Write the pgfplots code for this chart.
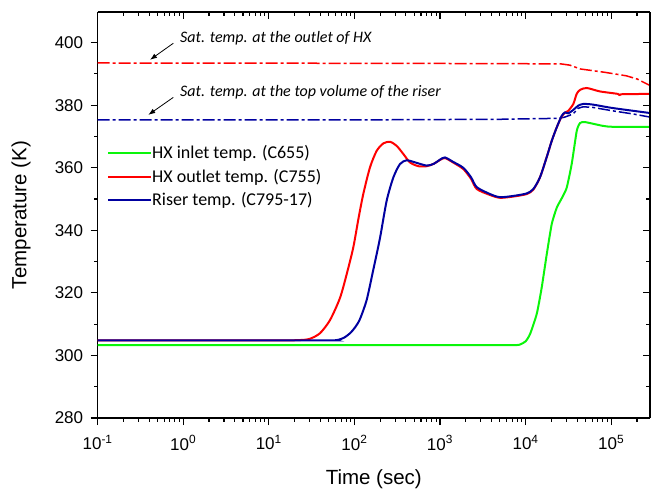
\documentclass[border=0pt]{standalone}
\usepackage{fontspec}
\setmainfont{Liberation Sans}
\newfontfamily\calfont{Carlito}
\usepackage{pgfplots}
\pgfplotsset{compat=1.18}
\usetikzlibrary{arrows.meta}
\definecolor{cgreen}{RGB}{10,245,10}
\definecolor{cred}{RGB}{255,0,0}
\definecolor{cblue}{RGB}{0,0,160}
\begin{document}
\begin{tikzpicture}
\useasboundingbox (-97.6pt,-72pt) rectangle (553.4pt,418pt);
\begin{axis}[xmode=log, log basis x=10, xmin=0.1, xmax=2.84e5, ymin=280, ymax=409.8,
  width=552.4pt, height=406pt, scale only axis,
  xtick={0.1,1,10,100,1000,10000,100000},
  ytick={280,300,320,340,360,380,400},
  major tick length=7pt,
  tick style={black, line width=1.1pt},
  axis line style={line width=1.2pt},
  yticklabel style={/pgf/number format/assume math mode=true, xshift=-4pt},
  xticklabel style={yshift=-7pt},
  ticklabel style={font=\fontsize{17}{20}\selectfont},
  axis x line*=bottom, axis y line*=left, tick align=outside,
  xticklabels={10\textsuperscript{-1},10\textsuperscript{0},10\textsuperscript{1},10\textsuperscript{2},10\textsuperscript{3},10\textsuperscript{4},10\textsuperscript{5}},
  xlabel={Time (sec)}, ylabel={Temperature (K)},
  label style={font=\fontsize{20.5}{24}\selectfont},
  xlabel style={at={(axis description cs:0.5,-0.165)}, anchor=base},
  ylabel style={at={(axis description cs:-0.1387,0.5)}, anchor=center},
  legend style={draw=none, fill=none, at={(axis description cs:0.017,0.673)}, anchor=north west,
    font=\calfont\fontsize{18}{21}\selectfont, inner sep=0pt, row sep=6.8pt,
    nodes={inner sep=0pt, text height=14pt, text depth=2.5pt}},
  legend image code/.code={\draw[#1] (0pt,0pt) -- (43pt,0pt);},
  legend cell align=left,
]
% saturation temperatures
\addplot[cred, line width=1.5pt, dash pattern=on 12pt off 3pt on 3pt off 3pt, forget plot] coordinates {
(0.1,393.5) (100,393.4) (5000,393.3) (26000,393.2) (33000,392.8) (43300,391.6) (85000,390.5) (150000,389.4) (200000,388.4) (240000,387.3) (284000,386.3)};
\addplot[cblue, line width=1.5pt, dash pattern=on 12pt off 3pt on 3pt off 3pt, forget plot] coordinates {
(0.1,375.3) (100,375.3) (5000,375.5) (23100,375.8) (28000,376.1) (33000,376.8) (37000,377.6) (41000,379.0) (47000,379.5) (61000,379.3) (104000,378.2) (180000,377.2) (284000,376.2)};
% HX inlet
\addplot[cgreen, line width=2pt, smooth, tension=0.35] coordinates {
(0.1,303.3) (1000,303.3) (7000,303.3) (8600,303.5) (10000,304.5) (11300,306.9) (13500,313.3) (15400,321.6) (17700,332.5) (20200,342) (23100,347.2) (26500,350.3) (30200,353.6) (34600,361.3) (39600,371.8) (43300,374.3) (49500,374.6) (79900,373.4) (104000,373.1) (284000,373.1)};
\addlegendentry{HX inlet temp. (C655)}
% HX outlet
\addplot[cred, line width=2pt, smooth, tension=0.45] coordinates {
(0.1,304.8) (10,304.8) (22,304.9) (30,305.3) (39.6,307.1) (51.9,311.3) (67.9,318.4) (81.3,326.0) (97,334.5) (112,344) (127,351.6) (152,360.1) (182,365.4) (218,367.8) (261,368.3) (312,367) (373,364.4) (447,361.7) (560,360.5) (700,360.5) (850,361.3) (1000,362.5) (1143,363.1) (1400,361.8) (1870,359.6) (2300,356.5) (2690,353.2) (3840,351.3) (5010,350.4) (7180,350.8) (10300,351.6) (12300,353.0) (14700,356.9) (17600,363.3) (20200,368.6) (23100,372.9) (26400,376.4) (28900,377.6) (31500,378.2) (36100,380.4) (39500,383.6) (43300,384.9) (51800,385.5) (74100,384.4) (120000,383.6) (126000,383.0) (132000,383.5) (260000,383.6) (284000,383.6)};
\addlegendentry{HX outlet temp. (C755)}
% Riser
\addplot[cblue, line width=2pt, smooth, tension=0.45] coordinates {
(0.1,304.8) (40,304.8) (55,304.8) (65,305.0) (76,305.7) (89,307.1) (102,309) (116,311.6) (139,317.7) (166,327.3) (199,337.5) (238,349.4) (285,356.9) (341,361.2) (408,362.4) (500,361.8) (700,360.7) (850,361.3) (1000,362.6) (1143,363.3) (1400,362.0) (1870,360.0) (2300,357.0) (2690,353.8) (3840,351.6) (5010,350.6) (7180,351.0) (10300,351.8) (12300,353.2) (14700,356.9) (17600,363.3) (20200,368.6) (23100,372.9) (26400,376.6) (28900,377.7) (31500,377.4) (36100,378.5) (41000,379.8) (46900,380.4) (61000,380.2) (104000,379.1) (284000,377.5)};
\addlegendentry{Riser temp. (C795-17)}
% annotations
\draw[-{Latex[length=7pt,width=5pt]}, line width=0.8pt] (axis cs:0.766,399.8) -- (axis cs:0.409,394.5);
\draw[-{Latex[length=7pt,width=5pt]}, line width=0.8pt] (axis cs:0.766,382.5) -- (axis cs:0.391,376.9);
\node[anchor=base west, inner sep=0pt, font=\calfont\itshape\fontsize{16}{18}\selectfont] at (axis cs:0.918,399.9) {Sat. temp. at the outlet of HX};
\node[anchor=base west, inner sep=0pt, font=\calfont\itshape\fontsize{16}{18}\selectfont] at (axis cs:0.918,382.7) {Sat. temp. at the top volume of the riser};
\end{axis}
\begin{axis}[xmode=log, log basis x=10, xmin=0.1, xmax=2.84e5, ymin=280, ymax=409.8,
  width=552.4pt, height=406pt, scale only axis, clip=false,
  xtick={0.1,1,10,100,1000,10000,100000},
  ytick={280,300,320,340,360,380,400},
  major tick length=7pt,
  tick style={black, line width=1.1pt},
  axis line style={line width=1.2pt},
  axis x line*=top, axis y line*=right, tick align=inside,
  xticklabels={}, yticklabels={}]
% minor ticks (drawn by hand)
\pgfplotsinvokeforeach{0.2,0.3,0.4,0.5,0.6,0.7,0.8,0.9,2,3,4,5,6,7,8,9,20,30,40,50,60,70,80,90,200,300,400,500,600,700,800,900,2000,3000,4000,5000,6000,7000,8000,9000,20000,30000,40000,50000,60000,70000,80000,90000,200000}{
  \draw[black, line width=1.1pt] (axis cs:#1,280) -- ([yshift=-4pt]axis cs:#1,280);
  \draw[black, line width=1.1pt] (axis cs:#1,409.8) -- ([yshift=-4pt]axis cs:#1,409.8);
}
\pgfplotsinvokeforeach{290,310,330,350,370,390}{
  \draw[black, line width=1.1pt] (axis cs:0.1,#1) -- ([xshift=-4pt]axis cs:0.1,#1);
  \draw[black, line width=1.1pt] (axis cs:284000,#1) -- ([xshift=-4pt]axis cs:284000,#1);
}
\end{axis}
\end{tikzpicture}
\end{document}
